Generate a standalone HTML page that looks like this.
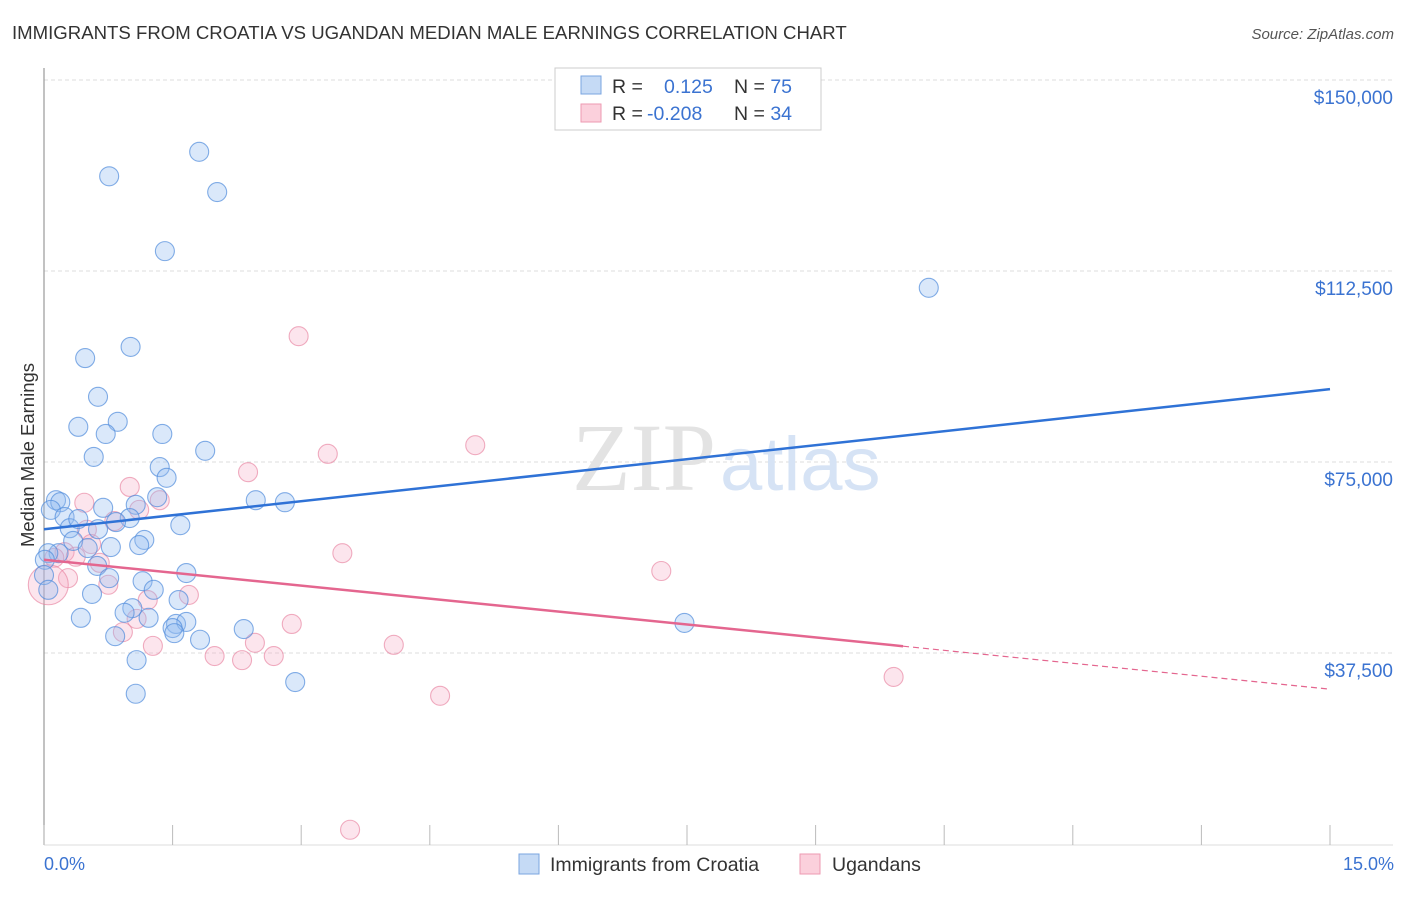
<!DOCTYPE html>
<html><head><meta charset="utf-8"><style>
body{margin:0;background:#fff;font-family:"Liberation Sans",sans-serif}
</style></head><body>
<svg width="1406" height="892" xmlns="http://www.w3.org/2000/svg" style="font-family:'Liberation Sans',sans-serif">
<text x="12" y="39" font-size="18.6" fill="#333">IMMIGRANTS FROM CROATIA VS UGANDAN MEDIAN MALE EARNINGS CORRELATION CHART</text>
<text x="1394" y="39" font-size="15" fill="#555" font-style="italic" text-anchor="end">Source: ZipAtlas.com</text>
<g id="grid"></g>
<text x="716" y="490" font-size="96" fill="#e3e3e3" text-anchor="end" font-family="Liberation Serif">ZIP</text>
<text x="720" y="490" font-size="76" fill="#d6e3f5">atlas</text>
<line x1="44" y1="68" x2="44" y2="845" stroke="#999" stroke-width="1.2"/>
<line x1="44" y1="845" x2="1393" y2="845" stroke="#ddd"/>
<g id="ticks"></g>
<text transform="translate(34,455) rotate(-90)" font-size="18.5" fill="#333" text-anchor="middle">Median Male Earnings</text>
<text x="44" y="870" font-size="18" fill="#3b73d1">0.0%</text>
<text x="1394" y="870" font-size="18" fill="#3b73d1" text-anchor="end">15.0%</text>
<g id="pts"></g>
<g id="lines"></g>
<g>
<rect x="555" y="68" width="266" height="62" fill="#fff" stroke="#ccc"/>
<rect x="581" y="76" width="20" height="18" fill="#c5daf5" stroke="#7aa5e0"/>
<rect x="581" y="104" width="20" height="18" fill="#fbd0dc" stroke="#ee9ab2"/>
<text x="612" y="93" font-size="19.5" fill="#333">R = <tspan fill="#3b73d1" x="664">0.125</tspan><tspan x="734" fill="#333">N = </tspan><tspan fill="#3b73d1">75</tspan></text>
<text x="612" y="120" font-size="19.5" fill="#333">R = <tspan fill="#3b73d1" x="647">-0.208</tspan><tspan x="734" fill="#333">N = </tspan><tspan fill="#3b73d1">34</tspan></text>
</g>
<g>
<rect x="519" y="854" width="20" height="20" fill="#c5daf5" stroke="#7aa5e0"/>
<text x="550" y="871" font-size="19.5" fill="#333">Immigrants from Croatia</text>
<rect x="800" y="854" width="20" height="20" fill="#fbd0dc" stroke="#ee9ab2"/>
<text x="832" y="871" font-size="19.5" fill="#333">Ugandans</text>
</g>
</svg>
<script>
const yTicks=[150000,112500,75000,37500];
const yTickLabels=["$150,000","$112,500","$75,000","$37,500"];
const xTicks=[0,1.5,3,4.5,6,7.5,9,10.5,12,13.5,15];
const croatiaX=[1.81,0.76,2.02,1.41,10.32,0.48,1.01,0.63,0.86,0.40,0.72,1.38,1.88,0.58,1.35,1.43,1.32,0.14,0.19,2.47,2.81,1.07,0.69,0.08,0.24,1.00,1.59,0.30,0.63,0.84,1.17,0.34,0.78,1.11,0.51,0.17,0.05,0.01,0.62,0.76,1.66,1.15,1.28,0.56,1.57,1.03,0.94,0.43,1.22,1.54,1.66,1.50,1.52,2.33,0.83,1.82,7.47,1.08,2.93,1.07,0.0,0.05,0.40];
const croatiaY=[135900,131100,128000,116400,109200,95400,97600,87800,82900,81900,80500,80500,77200,76000,74000,71900,68100,67500,67100,67500,67100,66600,66000,65600,64200,64000,62600,62000,61800,63200,59700,59500,58300,58700,58100,57100,57100,55800,54600,52200,53200,51600,49900,49100,47900,46300,45400,44400,44400,43200,43600,42400,41400,42200,40800,40100,43400,36100,31800,29500,52800,49900,63800];
const ugandaX=[2.97,5.03,3.31,2.38,1.00,0.47,1.35,1.11,0.82,0.50,0.55,0.24,0.65,0.37,0.12,3.48,7.20,0.75,1.69,1.21,0.28,2.89,0.92,1.08,1.27,2.46,4.08,1.99,2.31,2.68,4.62,9.91,3.57,0.05];
const ugandaY=[99700,78300,76600,73000,70100,67000,67500,65600,63400,61700,58900,57300,55200,56400,56200,57100,53600,50900,48900,47900,52200,43200,41600,44200,38900,39500,39100,36900,36100,36900,29100,32800,2800,50900];
const ugandaR=[9.5,9.5,9.5,9.5,9.5,9.5,9.5,9.5,9.5,9.5,9.5,9.5,9.5,9.5,9.5,9.5,9.5,9.5,9.5,9.5,9.5,9.5,9.5,9.5,9.5,9.5,9.5,9.5,9.5,9.5,9.5,9.5,9.5,20];
const croatiaTrend=[61800,89300];
const ugandaTrend=[55800,30400];
const ugandaSolidEnd=10.02;
const NS="http://www.w3.org/2000/svg";
const X=v=>44+v*(1286/15);
const Y=v=>462-(v-75000)*(191/37500);
function mk(t,a,p){const e=document.createElementNS(NS,t);for(const k in a)e.setAttribute(k,a[k]);p.appendChild(e);return e;}
const grid=document.getElementById('grid');
yTicks.forEach((v,i)=>{
 const l=mk('line',{x1:44,x2:1393,y1:Y(v),y2:Y(v),stroke:'#ddd','stroke-dasharray':'4,3'},grid);
 
 
 const t=mk('text',{x:1393,y:Y(v)+24,'font-size':19,fill:'#3b73d1','text-anchor':'end'},grid);
 t.textContent=yTickLabels[i];
 
 
});
const ticks=document.getElementById('ticks');
xTicks.forEach(v=>{
 const l=mk('line',{x1:X(v),x2:X(v),y1:825,y2:845,stroke:'#bbb'},ticks);
 
 
});
const pts=document.getElementById('pts');
ugandaX.forEach((x,i)=>{
 const c=mk('circle',{cx:X(x),cy:Y(ugandaY[i]),r:ugandaR[i],fill:'rgba(246,170,195,0.3)',stroke:'rgba(232,130,160,0.65)','stroke-width':1.1},pts);
 
 
});
croatiaX.forEach((x,i)=>{
 const c=mk('circle',{cx:X(x),cy:Y(croatiaY[i]),r:9.5,fill:'rgba(150,190,240,0.35)',stroke:'rgba(80,140,220,0.7)','stroke-width':1.1},pts);
 
 
});
const lines=document.getElementById('lines');
const bl=mk('line',{x1:X(0),y1:Y(croatiaTrend[0]),x2:X(15),y2:Y(croatiaTrend[1]),stroke:'#2f72d6','stroke-width':2.5},lines);


const uy=x=>ugandaTrend[0]+(ugandaTrend[1]-ugandaTrend[0])*x/15;
const pl=mk('line',{x1:X(0),y1:Y(uy(0)),x2:X(ugandaSolidEnd),y2:Y(uy(ugandaSolidEnd)),stroke:'#e4668f','stroke-width':2.5},lines);


const pd=mk('line',{x1:X(ugandaSolidEnd),y1:Y(uy(ugandaSolidEnd)),x2:X(15),y2:Y(uy(15)),stroke:'#e4668f','stroke-width':1.2,'stroke-dasharray':'6,4'},lines);


</script>
</body></html>
